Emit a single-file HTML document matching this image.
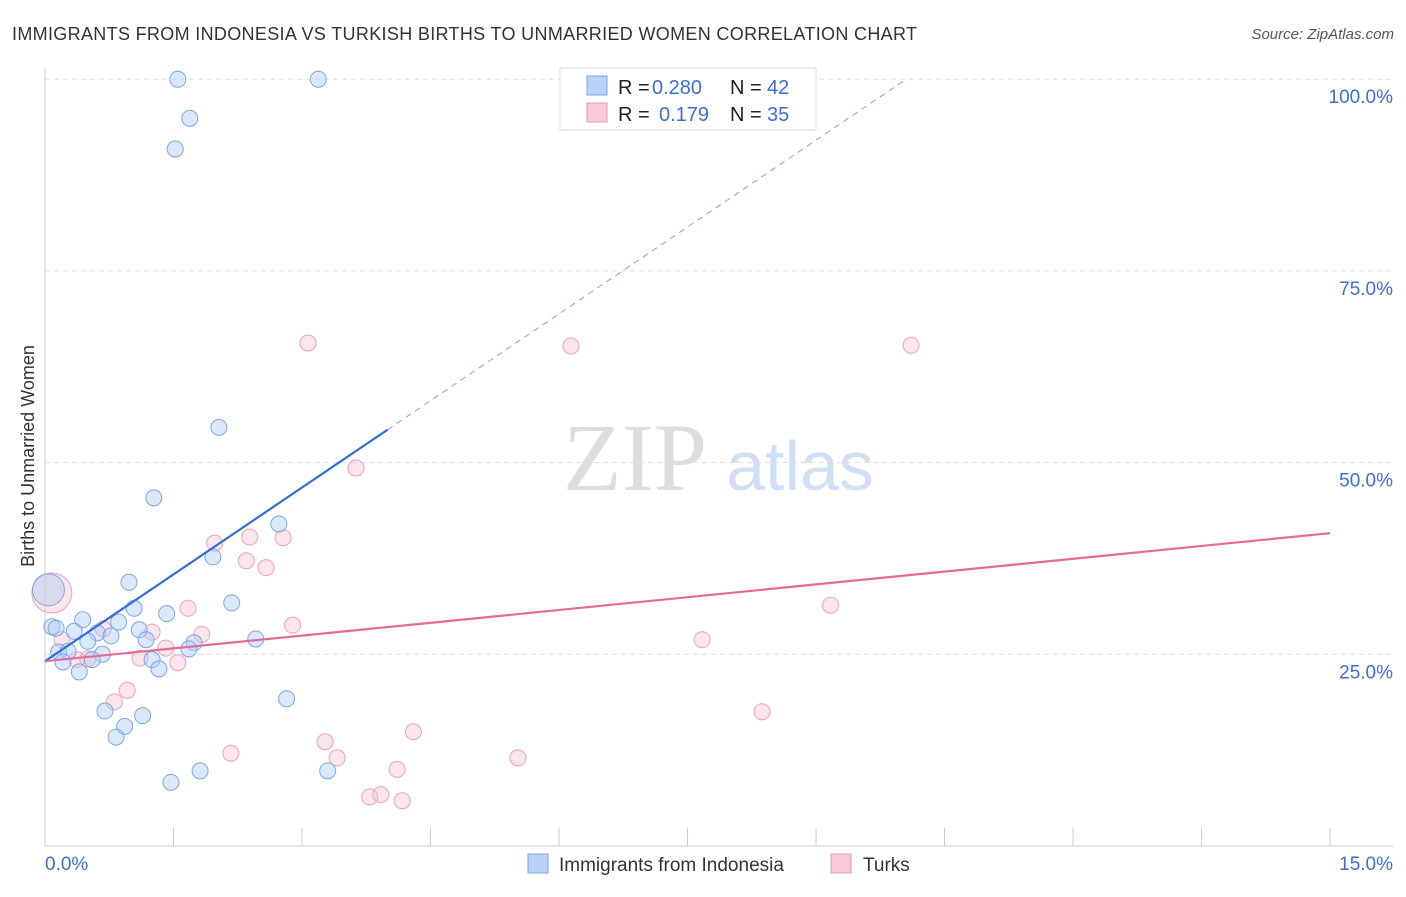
<!DOCTYPE html>
<html><head><meta charset="utf-8"><style>
body{margin:0;background:#fff;font-family:"Liberation Sans",sans-serif;}
</style></head><body>
<svg id="c" width="1406" height="892" xmlns="http://www.w3.org/2000/svg">
<text x="12" y="40" font-size="18" fill="#333" textLength="905">IMMIGRANTS FROM INDONESIA VS TURKISH BIRTHS TO UNMARRIED WOMEN CORRELATION CHART</text>
<text x="1394" y="39" font-size="15" font-style="italic" fill="#555" text-anchor="end">Source: ZipAtlas.com</text>
<text transform="translate(34,456) rotate(-90)" font-size="18" fill="#333" text-anchor="middle">Births to Unmarried Women</text>
<g><text x="635" y="490" font-size="96" font-family="Liberation Serif,serif" fill="#ddd" text-anchor="middle">ZIP</text><text x="800" y="490" font-size="70" fill="#cfe0f5" text-anchor="middle">atlas</text></g>
<g id="grid"></g><g id="marks"></g>
<g>
<rect x="560" y="68" width="256" height="62" fill="#fff" stroke="#ddd"/>
<rect x="587" y="76" width="20" height="19" fill="#b9d3f5" stroke="#7aa6e6"/>
<rect x="587" y="103" width="20" height="19" fill="#f9c9d7" stroke="#ee97b2"/>
<text x="618" y="94" font-size="20" fill="#222">R =</text>
<text x="652" y="94" font-size="20" fill="#3b6fd4">0.280</text>
<text x="730" y="94" font-size="20" fill="#222">N =</text>
<text x="767" y="94" font-size="20" fill="#3b6fd4">42</text>
<text x="618" y="121" font-size="20" fill="#222">R =</text>
<text x="659" y="121" font-size="20" fill="#3b6fd4">0.179</text>
<text x="730" y="121" font-size="20" fill="#222">N =</text>
<text x="767" y="121" font-size="20" fill="#3b6fd4">35</text>
</g>
<g>
<rect x="528" y="854" width="20" height="19" fill="#b9d3f5" stroke="#7aa6e6"/>
<text x="559" y="871" font-size="19" fill="#333">Immigrants from Indonesia</text>
<rect x="831" y="854" width="20" height="19" fill="#f9c9d7" stroke="#ee97b2"/>
<text x="863" y="871" font-size="19" fill="#333">Turks</text>
</g>
</svg>
<script>
const yTicks=[25,50,75,100];
const xTickLabels=["0.0%","15.0%"];
const blueX=[1.55,3.19,1.69,1.52,2.03,1.27,2.73,1.96,0.98,2.18,1.04,1.42,0.44,0.86,0.08,0.13,0.34,0.61,1.10,0.77,1.18,0.50,1.74,1.68,2.46,0.16,0.27,0.67,0.21,0.55,1.25,1.33,0.40,2.82,0.70,1.14,0.93,0.83,1.81,1.47,3.30,0.04];
const blueY=[100,100,94.9,90.9,54.6,45.4,42.0,37.7,34.4,31.7,31.0,30.3,29.5,29.2,28.6,28.4,28.0,27.8,28.2,27.4,26.9,26.7,26.5,25.7,27.0,25.3,25.4,25.0,24.0,24.3,24.3,23.1,22.7,19.2,17.6,17.0,15.6,14.2,9.8,8.3,9.8,33.4];
const pinkX=[3.07,6.14,10.11,3.63,1.98,2.39,2.78,2.35,2.58,1.67,9.17,2.89,1.25,1.83,0.68,1.41,1.55,1.11,0.50,0.37,7.67,0.96,0.81,8.37,2.17,3.27,4.30,3.41,5.52,4.11,3.79,3.92,4.17,0.08,0.20];
const pinkY=[65.6,65.2,65.3,49.3,39.5,40.3,40.2,37.2,36.3,31.0,31.4,28.8,27.9,27.6,28.3,25.8,23.9,24.5,24.4,24.3,26.9,20.3,18.8,17.5,12.1,13.6,14.9,11.5,11.5,10.0,6.4,6.7,5.9,33.0,26.9];
const blueTrend=[24.1,7.55];
const pinkTrend=[24.1,1.113];
const X=v=>45+v*85.67, Y=v=>846-v*7.668;
const NS="http://www.w3.org/2000/svg";
function mk(p,t,a){const e=document.createElementNS(NS,t);for(const k in a)e.setAttribute(k,a[k]);p.appendChild(e);return e;}
const g=document.getElementById('grid'), m=document.getElementById('marks');
yTicks.forEach(t=>{
 const l=mk(g,'line',{x1:45,x2:1393,y1:Y(t),y2:Y(t),stroke:'#ddd','stroke-dasharray':'5,4'});
 
 
 const tx=mk(g,'text',{x:1393,y:Y(t)+24,'font-size':19,fill:'#3b6fd4','text-anchor':'end'});tx.textContent=t.toFixed(1)+'%';
 
 
});
mk(g,'line',{x1:45,x2:1393,y1:846,y2:846,stroke:'#ccc'});
mk(g,'line',{x1:45,x2:45,y1:68,y2:846,stroke:'#ccc'});
for(let i=0;i<=10;i++){const l=mk(g,'line',{x1:X(i*1.5),x2:X(i*1.5),y1:828,y2:846,stroke:'#ccc'});
 
 }
const xl0=mk(g,'text',{x:45,y:870,'font-size':19,fill:'#3b6fd4'});xl0.textContent=xTickLabels[0];


const xl1=mk(g,'text',{x:1393,y:870,'font-size':19,fill:'#3b6fd4','text-anchor':'end'});xl1.textContent=xTickLabels[1];


pinkX.forEach((x,i)=>{const big=i==33;const c=mk(m,'circle',{cx:X(x),cy:Y(pinkY[i]),r:big?20:8,fill:'rgba(249,190,208,0.4)',stroke:'#eea0b8','stroke-width':1});
 
 });
blueX.forEach((x,i)=>{const big=i==41;const c=mk(m,'circle',{cx:X(x),cy:Y(blueY[i]),r:big?16:8,fill:'rgba(175,205,243,0.45)',stroke:'#7aa6e6','stroke-width':1});
 
 });
const bEnd=(100-blueTrend[0])/blueTrend[1];
const bl=mk(m,'line',{x1:X(0),y1:Y(blueTrend[0]),x2:X(4),y2:Y(blueTrend[0]+blueTrend[1]*4),stroke:'#2e6fd6','stroke-width':2.2});


const bd=mk(m,'line',{x1:X(4),y1:Y(blueTrend[0]+blueTrend[1]*4),x2:X(bEnd),y2:Y(blueTrend[0]+blueTrend[1]*bEnd),stroke:'#7aa6e6','stroke-width':1,'stroke-dasharray':'6,5'});


const pl=mk(m,'line',{x1:X(0),y1:Y(pinkTrend[0]),x2:X(15),y2:Y(pinkTrend[0]+pinkTrend[1]*15),stroke:'#e66a98','stroke-width':2.2});


</script>
</body></html>
